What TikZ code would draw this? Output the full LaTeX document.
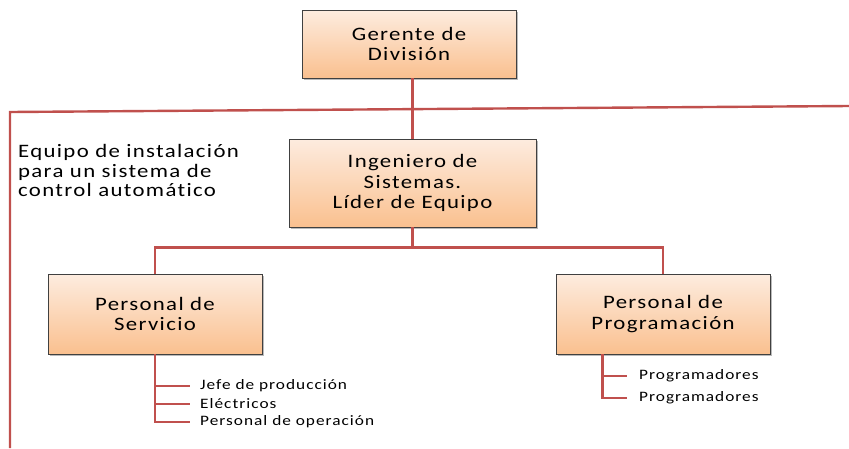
\documentclass[tikz,border=0pt]{standalone}
\usepackage{fontspec}
\setmainfont{Carlito}[LetterSpace=7,FakeStretch=1.2,Ligatures=NoCommon]
\usetikzlibrary{shadows}

\definecolor{linkred}{HTML}{C0504D}
\definecolor{boxtop}{HTML}{FDECDF}
\definecolor{boxbot}{HTML}{FAC08F}

\tikzset{
  box/.style={draw=black!75, line width=0.8pt, top color=boxtop, bottom color=boxbot,
    drop shadow={shadow xshift=2pt, shadow yshift=-2pt, fill=black!45, opacity=.6},
    align=center, font=\fontsize{19}{20.5}\selectfont, inner sep=0pt},
  link/.style={draw=linkred, line width=2.4pt},
  item/.style={anchor=west, inner sep=0pt, font=\fontsize{14.4}{15}\selectfont},
}

\begin{document}
\begin{tikzpicture}[x=1pt,y=-1pt]
    \useasboundingbox (0,0) rectangle (849,448);

    % Frame of the team
    \coordinate (frametop) at (10,112);
    \coordinate (frameright) at (849,106);
    \coordinate (framebottom) at (10,448);
    \draw[link] (framebottom) -- (frametop) -- (frameright);
    \node[anchor=north west, align=left, inner sep=0pt, font=\fontsize{19}{19.7}\selectfont]
        (equipo) at (18,144) {Equipo de instalación\\para un sistema de\\control automático};

    % Boxes
    \node[box, minimum width=214pt, minimum height=68pt] (gerente) at (409,44) {Gerente de\\División};
    \node[box, minimum width=247pt, minimum height=88pt] (ingeniero) at (412.5,183) {Ingeniero de\\Sistemas.\\Líder de Equipo};
    \node[box, minimum width=214pt, minimum height=80pt] (servicio) at (155,314) {Personal de\\Servicio};
    \node[box, minimum width=214pt, minimum height=80pt] (programacion) at (663,314) {Personal de\\Programación};

    % Staff
    \node[item] (jefe) at (200,386) {Jefe de producción};
    \node[item] (electricos) at (200,404) {Eléctricos};
    \node[item] (operacion) at (200,422) {Personal de operación};
    \node[item] (prog1) at (639,376) {Programadores};
    \node[item] (prog2) at (639,398) {Programadores};

    % Connectors
    \coordinate (hub) at ([yshift=-20pt]ingeniero.south);
    \draw[link] (ingeniero.north) -- (ingeniero.north |- gerente.south);
    \draw[link] (ingeniero.south) -- (hub);
    \draw[link] (servicio.north) |- (hub) -| (programacion.north);
    \draw[link, shorten >=10pt] (servicio.south) |- (jefe.west);
    \draw[link, shorten >=10pt] (servicio.south) |- (electricos.west);
    \draw[link, shorten >=10pt] (servicio.south) |- (operacion.west);
    \draw[link, shorten >=12pt] ([xshift=47pt]programacion.south west) |- (prog1.west);
    \draw[link, shorten >=12pt] ([xshift=47pt]programacion.south west) |- (prog2.west);
\end{tikzpicture}
\end{document}
